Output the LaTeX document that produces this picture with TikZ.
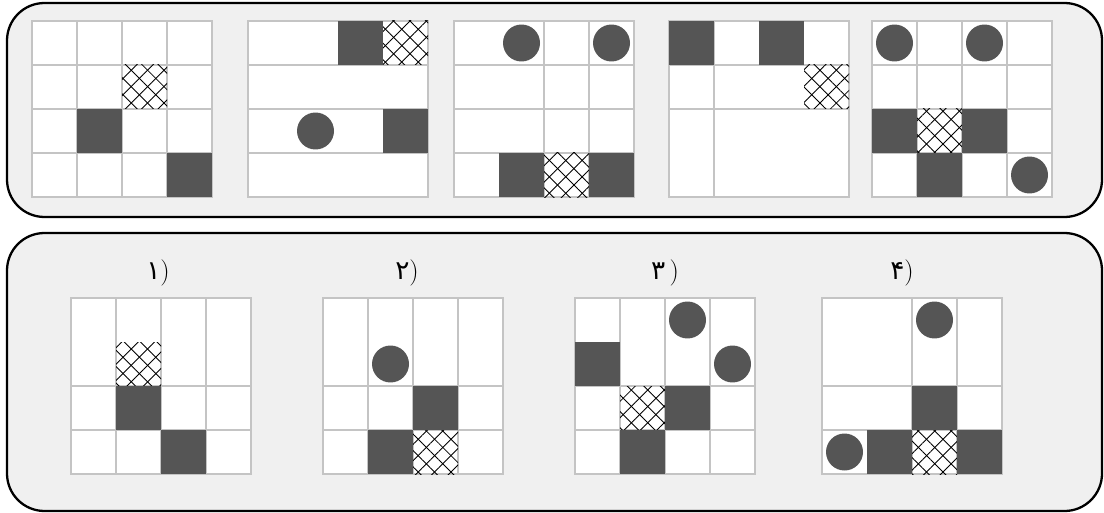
\documentclass[tikz,border=0pt]{standalone}
\usepackage{fontspec}
\usepackage{tikz}
\usetikzlibrary{patterns.meta}
\newfontfamily\arabicfont[Script=Arabic]{DejaVu Sans}
\definecolor{panelgrey}{RGB}{240,240,240}
\definecolor{gridgrey}{RGB}{196,196,196}
\definecolor{cellgrey}{RGB}{85,85,85}
\tikzset{
  panel/.style={draw=black,line width=1.3pt,fill=panelgrey,rounded corners=0.75cm},
  board/.style={draw=gridgrey,line width=0.6pt,fill=white},
  gline/.style={draw=gridgrey,line width=0.6pt},
  blk/.style={fill=cellgrey},
  netA/.style={pattern={Lines[angle=45,distance=6.6pt,line width=0.5pt]}},
  netB/.style={pattern={Lines[angle=-45,distance=6.6pt,line width=0.5pt]}},
  optlab/.style={font=\fontsize{15}{17}\selectfont,inner sep=0pt}
}
\newcommand{\vlines}[1]{\foreach \c in {#1}{\draw[gline] (45*\c,0) -- (45*\c,176);}}
\newcommand{\hlines}[1]{\foreach \r in {#1}{\draw[gline] (0,44*\r) -- (180,44*\r);}}
\newcommand{\blkcell}[2]{\fill[blk] (45*#1-45,44*#2-44) rectangle ++(45,44);}
\newcommand{\netcell}[2]{\fill[netA] (45*#1-45,44*#2-44) rectangle ++(45,44);
  \fill[netB] (45*#1-45,44*#2-44) rectangle ++(45,44);}
\newcommand{\rndcell}[2]{\fill[blk] (45*#1-22.5,44*#2-22) circle[radius=0.37cm];}

\begin{document}
\begin{tikzpicture}[x=0.02cm,y=-0.02cm]
  \useasboundingbox (0,0) rectangle (1104,513);
  \draw[panel] (7,3) rectangle (1102,217);
  \draw[panel] (7,233) rectangle (1102,511);
  % question row
  \begin{scope}[shift={(32,21)}]
    \draw[board] (0,0) rectangle (180,176); \vlines{1,2,3} \hlines{1,2,3}
    \netcell{3}{2} \blkcell{2}{3} \blkcell{4}{4}
  \end{scope}
  \begin{scope}[shift={(248,21)}]
    \draw[board] (0,0) rectangle (180,176); \hlines{1,2,3}
    \blkcell{3}{1} \netcell{4}{1} \rndcell{2}{3} \blkcell{4}{3}
  \end{scope}
  \begin{scope}[shift={(454,21)}]
    \draw[board] (0,0) rectangle (180,176); \vlines{2,3} \hlines{1,2,3}
    \rndcell{2}{1} \rndcell{4}{1} \blkcell{2}{4} \netcell{3}{4} \blkcell{4}{4}
  \end{scope}
  \begin{scope}[shift={(669,21)}]
    \draw[board] (0,0) rectangle (180,176); \vlines{1} \hlines{1,2}
    \blkcell{1}{1} \blkcell{3}{1} \netcell{4}{2}
  \end{scope}
  \begin{scope}[shift={(872,21)}]
    \draw[board] (0,0) rectangle (180,176); \vlines{1,2,3} \hlines{1,2,3}
    \rndcell{1}{1} \rndcell{3}{1} \blkcell{1}{3} \netcell{2}{3} \blkcell{3}{3}
    \blkcell{2}{4} \rndcell{4}{4}
  \end{scope}
  % answer row
  \foreach \t/\x [count=\i] in {۱/158,۲/407,۳\,/665,۴/902}
    \node[optlab] (lab\i) at (\x,273) {{\arabicfont\t})};
  \begin{scope}[shift={(71,298)}]
    \draw[board] (0,0) rectangle (180,176); \vlines{1,2,3} \hlines{2,3}
    \netcell{2}{2} \blkcell{2}{3} \blkcell{3}{4}
  \end{scope}
  \begin{scope}[shift={(323,298)}]
    \draw[board] (0,0) rectangle (180,176); \vlines{1,2,3} \hlines{2,3}
    \rndcell{2}{2} \blkcell{3}{3} \blkcell{2}{4} \netcell{3}{4}
  \end{scope}
  \begin{scope}[shift={(575,298)}]
    \draw[board] (0,0) rectangle (180,176); \vlines{1,2,3} \hlines{2,3}
    \rndcell{3}{1} \blkcell{1}{2} \rndcell{4}{2} \netcell{2}{3} \blkcell{3}{3}
    \blkcell{2}{4}
  \end{scope}
  \begin{scope}[shift={(822,298)}]
    \draw[board] (0,0) rectangle (180,176); \vlines{2,3} \hlines{2,3}
    \rndcell{3}{1} \blkcell{3}{3} \rndcell{1}{4} \blkcell{2}{4} \netcell{3}{4}
    \blkcell{4}{4}
  \end{scope}
\end{tikzpicture}
\end{document}
